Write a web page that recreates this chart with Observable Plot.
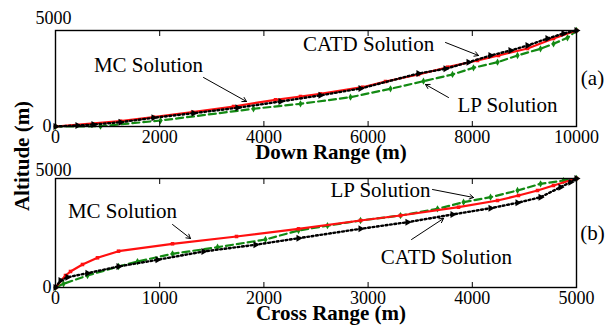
<!DOCTYPE html>
<html><head><meta charset="utf-8">
<script src="https://cdn.jsdelivr.net/npm/d3@7"></script>
<script src="https://cdn.jsdelivr.net/npm/@observablehq/plot@0.6"></script>
</head><body style="margin:0;padding:0;background:#fff;font-family:'Liberation Serif'">
<div id="chart" style="position:relative;width:605px;height:333px;overflow:hidden;background:#fff;font-family:'Liberation Serif'"><div id="ylab" style="position:absolute;left:22px;top:156px;transform:translate(-50%,-50%) rotate(-90deg);font-family:'Liberation Serif';font-size:21px;font-weight:bold;white-space:nowrap;z-index:5;">Altitude (m)</div></div>
<script>
// ---- Panel (a): Down Range vs Altitude ----
const downTicks = [0, 2000, 4000, 6000, 8000, 10000];
const downMCx = [0,1248,1881,2630,3417,4223,4702,5086,5893,6334,6967,7524,8100,8503,9060,9559,10000];
const downMCy = [0,248,436,670,938,1252,1406,1530,1842,2109,2438,2780,3094,3328,3656,4125,4500];
const downCATDx = [0,422,729,1248,1881,2649,3493,4319,5086,5854,6967,7486,7927,8349,8733,9060,9443,9750,10000];
const downCATDy = [0,47,94,202,408,623,877,1172,1460,1781,2484,2705,3014,3328,3563,3797,4125,4359,4500];
const downLPx = [0,864,2015,3800,4702,5662,6430,7063,7620,8023,8484,8868,9309,9559,9827,10000];
const downLPy = [0,14,281,830,1064,1373,1767,2123,2438,2752,3014,3328,3642,3877,4158,4500];

// ---- Panel (b): Cross Range vs Altitude ----
const crossTicks = [0, 1000, 2000, 3000, 4000, 5000];
const crossMCx = [0,96,144,259,403,605,1123,1737,2332,2927,3311,3868,4242,4443,4626,4779,5000];
const crossMCy = [0,495,661,950,1226,1499,1804,2106,2423,2766,2972,3315,3592,3798,4005,4211,4500];
const crossCATDx = [0,48,115,307,605,979,1420,1919,2332,2927,3378,3810,4175,4434,4655,4846,4942,5000];
const crossCATDy = [0,289,425,590,867,1144,1486,1763,2035,2423,2696,3014,3274,3497,3728,4141,4347,4500];
const crossLPx = [0,77,307,605,787,1123,1555,2015,2332,2610,2927,3311,3666,3916,4175,4434,4655,4875,5000];
const crossLPy = [0,153,495,867,1073,1391,1664,1982,2353,2550,2766,2972,3249,3522,3728,4005,4281,4417,4500];

const yTickLabels = [0, 5000];

// annotations (data units)
const notesA = [
  {label: "MC Solution", x: 1785, y: 2859},
  {label: "CATD Solution", x: 6008, y: 3844},
  {label: "LP Solution", x: 8676, y: 984}
];
const arrowsA = [
  {x1: 2841, y1: 2297, x2: 3666, y2: 1172},
  {x1: 7486, y1: 3938, x2: 8119, y2: 3328},
  {x1: 7543, y1: 1359, x2: 7102, y2: 1969}
];
const notesB = [
  {label: "MC Solution", x: 643, y: 3138},
  {label: "LP Solution", x: 3119, y: 4005},
  {label: "CATD Solution", x: 3752, y: 1239}
];
const arrowsB = [
  {x1: 1123, y1: 2601, x2: 1296, y2: 2023},
  {x1: 3618, y1: 4046, x2: 4012, y2: 3716},
  {x1: 3417, y1: 1982, x2: 3724, y2: 2849}
];

const FONT = "Liberation Serif";
const zip = (xs, ys) => xs.map((x, i) => ({x, y: ys[i]}));

function panel({mc, catd, lp, xDomain, xTicks, xLabel, notes, arrows, tag, height, marginTop, marginBottom, fiveDy}) {
  return Plot.plot({
    width: 605, height,
    marginLeft: 55, marginRight: 29, marginTop, marginBottom,
    style: {fontFamily: FONT, fontSize: "18px"},
    x: {domain: xDomain},
    y: {domain: [0, 4500]},
    marks: [
      Plot.line(lp, {x: "x", y: "y", stroke: "#138a13", strokeWidth: 2.2, strokeDasharray: "7,4"}),
      Plot.dot(lp, {x: "x", y: "y", symbol: "diamond", r: 2.2, fill: "#138a13"}),
      Plot.line(mc, {x: "x", y: "y", stroke: "#ff1010", strokeWidth: 2.2}),
      Plot.dot(mc, {x: "x", y: "y", symbol: "square", r: 2, fill: "#ff1010"}),
      Plot.line(catd, {x: "x", y: "y", stroke: "black", strokeWidth: 2.4, strokeDasharray: "1.8,2.6"}),
      Plot.dot(catd, {x: "x", y: "y", symbol: "triangle", r: 2.6, fill: "black", rotate: 90}),
      Plot.frame({stroke: "black", strokeWidth: 1.4}),
      Plot.axisX({anchor: "bottom", ticks: xTicks, tickSize: 5, dy: -5, text: null}),
      Plot.axisX({anchor: "top", ticks: xTicks, tickSize: 5, dy: 5, text: null}),
      Plot.axisX({anchor: "bottom", ticks: xTicks, tickSize: 0, tickPadding: 4, tickFormat: d => String(d), fontSize: 18, label: null}),
      Plot.axisY({anchor: "left", ticks: [0], tickSize: 0, tickPadding: 4, tickFormat: d => String(d), fontSize: 18, label: null}),
      Plot.text([yTickLabels[1]], {x: xDomain[0], y: d => d, text: d => String(d), textAnchor: "middle", dx: -2, dy: fiveDy, fontSize: 18}),
      Plot.text([xLabel], {frameAnchor: "bottom", text: d => d, dy: 32, dx: 15, fontSize: 21, fontWeight: "bold"}),
      Plot.text([tag], {frameAnchor: "right", text: d => d, dx: 16, textAnchor: "middle", fontSize: 21}),
      Plot.text(notes, {x: "x", y: "y", text: "label", fontSize: 21, textAnchor: "middle"}),
      Plot.arrow(arrows, {x1: "x1", y1: "y1", x2: "x2", y2: "y2", stroke: "black", strokeWidth: 1, headLength: 7, inset: 0})
    ]
  });
}

const chart = document.getElementById("chart");
function place(svg, top) {
  svg.style.position = "absolute";
  svg.style.left = "0px";
  svg.style.top = top + "px";
  svg.style.overflow = "visible";
  svg.style.background = "transparent";
  svg.style.fontFamily = FONT;
  d3.select(svg).selectAll("text").attr("font-family", FONT).style("font-family", FONT);
  chart.appendChild(svg);
}
place(panel({
  mc: zip(downMCx, downMCy), catd: zip(downCATDx, downCATDy), lp: zip(downLPx, downLPy),
  xDomain: [0, 10000], xTicks: downTicks, xLabel: "Down Range (m)",
  notes: notesA, arrows: arrowsA, tag: "(a)", height: 165, marginTop: 30, marginBottom: 39, fiveDy: -2
}), 0);
place(panel({
  mc: zip(crossMCx, crossMCy), catd: zip(crossCATDx, crossCATDy), lp: zip(crossLPx, crossLPy),
  xDomain: [0, 5000], xTicks: crossTicks, xLabel: "Cross Range (m)",
  notes: notesB, arrows: arrowsB, tag: "(b)", height: 168, marginTop: 13, marginBottom: 46, fiveDy: 4
}), 165);
</script>
</body></html>
